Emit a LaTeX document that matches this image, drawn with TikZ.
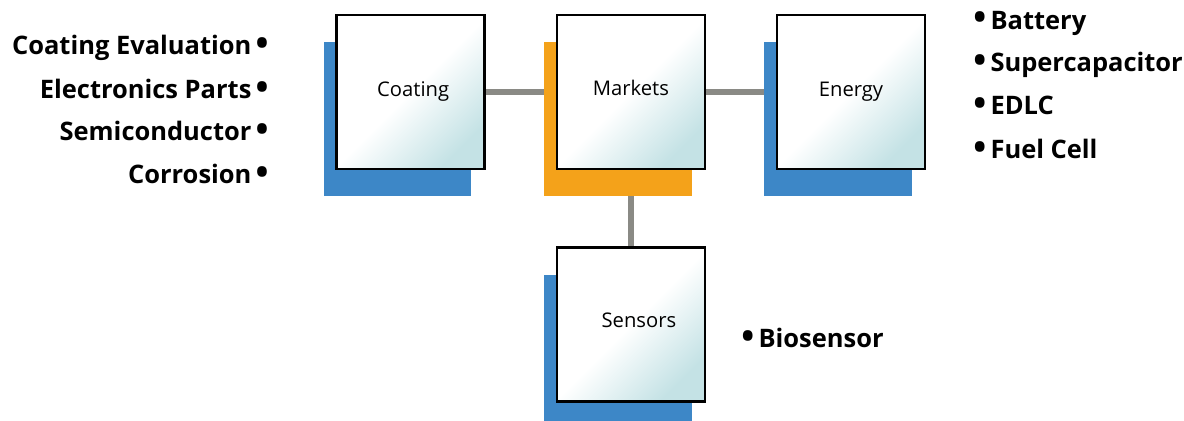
\documentclass[tikz,border=0pt]{standalone}
\usepackage{fontspec}
\setmainfont{Open Sans}
\usetikzlibrary{positioning,shadows,backgrounds}

\definecolor{shadowblue}{HTML}{3D87C7}
\definecolor{shadoworange}{HTML}{F4A21A}
\definecolor{linkgray}{HTML}{8A8A85}
\definecolor{boxteal}{HTML}{C4E2E5}

\newcommand{\bul}{\raisebox{-0.5pt}{\scalebox{1.35}{\textbullet}}}

\begin{document}
\begin{tikzpicture}[x=0.02cm, y=-0.02cm,
    area/.style = {draw=black, line width=1.2pt, fill=white,
        top color=white, bottom color=boxteal, middle color=white, shading angle=45,
        minimum width=2.96cm, minimum height=3.08cm, inner sep=0pt,
        font=\fontsize{11.5}{14}\selectfont},
    blueshade/.style = {general shadow={fill=shadowblue, shadow xshift=-0.26cm, shadow yshift=-0.54cm}},
    orangeshade/.style = {general shadow={fill=shadoworange, shadow xshift=-0.26cm, shadow yshift=-0.54cm}},
    item/.style = {font=\fontsize{14.5}{16}\selectfont\bfseries, inner sep=0pt},
    link/.style = {draw=linkgray, line width=3.2pt}]
    \useasboundingbox (0,0) rectangle (1184,421);

    % boxes
    \node[area, blueshade](coating) at (410.5,92){\hspace{3pt}Coating};
    \node[area, orangeshade](markets) at (631,92){\raisebox{5pt}{Markets}};
    \node[area, blueshade](energy) at (851,92){Energy};
    \node[area, blueshade](sensors) at (631,324.5){\raisebox{5pt}{\hspace{9pt}Sensors}};

    % links behind the boxes
    \begin{pgfonlayer}{background}
        \draw[link] (coating) -- (markets);
        \draw[link] (markets) -- (energy);
        \draw[link] (markets) -- (sensors);
    \end{pgfonlayer}

    % coating uses
    \node[item, anchor=east](c1) at (269,48){Coating Evaluation\,\bul};
    \node[item, anchor=east](c2) at (269,89){Electronics Parts\,\bul};
    \node[item, anchor=east](c3) at (269,131){Semiconductor\,\bul};
    \node[item, anchor=east](c4) at (269,174){Corrosion\,\bul};

    % energy uses
    \node[item, anchor=west](e1) at (973,23){\bul\,Battery};
    \node[item, anchor=west](e2) at (973,65){\bul\,Supercapacitor};
    \node[item, anchor=west](e3) at (973,106){\bul\,EDLC};
    \node[item, anchor=west](e4) at (973,149){\bul\,Fuel Cell};

    % sensors uses
    \node[item, anchor=west](s1) at (741,338){\bul\,Biosensor};
\end{tikzpicture}
\end{document}
